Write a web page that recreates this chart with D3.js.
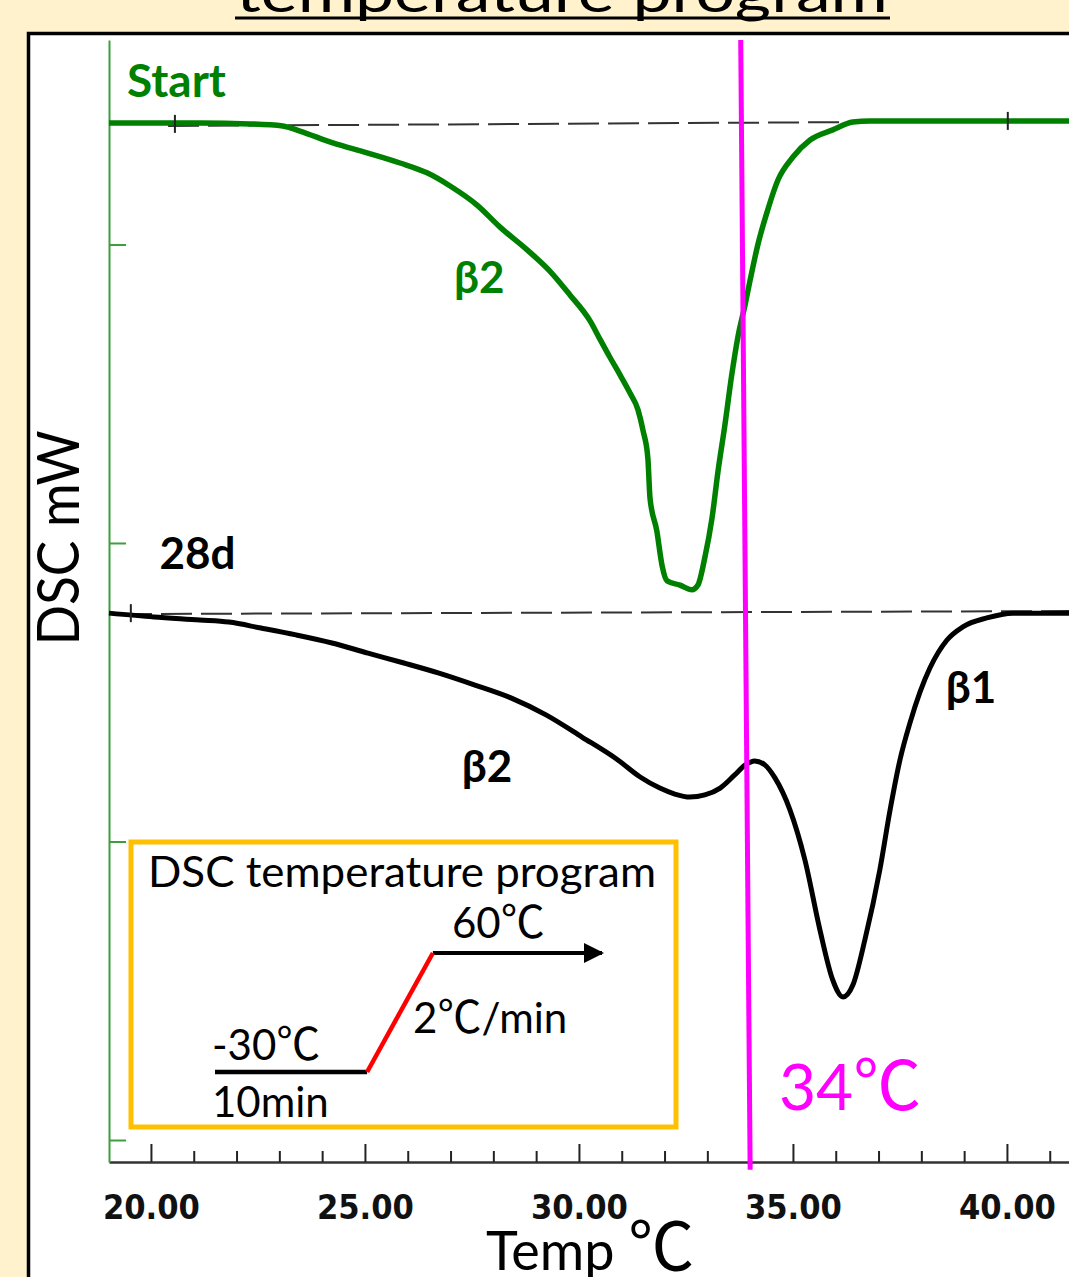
<!DOCTYPE html>
<html>
<head>
<meta charset="utf-8">
<script src="https://cdn.jsdelivr.net/npm/d3@7"></script>
<style>
  body { margin: 0; background: #FFF2CC; }
  svg { display: block; }
</style>
</head>
<body>
<div id="chart"></div>
<script>
// start sample (green), temperatures in ℃ and heat flow in arbitrary mW units
var startTemp = [19.02, 21.14, 22.31, 23.08, 23.48, 24.25, 25.05, 25.82, 26.45, 26.99, 27.62, 28.15,
  28.79, 29.32, 29.79, 30.26, 30.49, 30.72, 30.96, 31.19, 31.38, 31.50, 31.61, 31.66, 31.82, 31.94,
  32.06, 32.36, 32.64, 32.78, 32.94, 33.11, 33.25, 33.41, 33.57, 33.71, 33.88, 34.00, 34.19, 34.39,
  34.65, 35.00, 35.40, 35.93, 36.40, 36.80, 38.67, 41.45];
var startDSC = [3.407, 3.407, 3.404, 3.397, 3.380, 3.340, 3.307, 3.273, 3.240, 3.196, 3.132, 3.059,
  2.982, 2.911, 2.831, 2.744, 2.683, 2.623, 2.563, 2.503, 2.446, 2.375, 2.285, 2.151, 2.040, 1.926,
  1.873, 1.859, 1.843, 1.859, 1.950, 2.084, 2.241, 2.395, 2.563, 2.687, 2.797, 2.881, 3.005, 3.106,
  3.216, 3.293, 3.350, 3.384, 3.410, 3.414, 3.414, 3.414];

// 28 day sample (black)
var d28Temp = [19.02, 20.07, 21.14, 21.82, 22.57, 23.39, 24.23, 25.07, 25.91, 26.73, 27.57, 28.41,
  29.23, 30.07, 30.91, 31.43, 31.89, 32.24, 32.59, 32.94, 33.30, 33.64, 33.88, 34.11, 34.35, 34.58,
  34.93, 35.28, 35.63, 35.93, 36.17, 36.40, 36.68, 37.03, 37.27, 37.50, 37.74, 37.97, 38.20, 38.60,
  38.97, 39.53, 40.14, 41.45];
var d28DSC = [1.765, 1.752, 1.742, 1.735, 1.715, 1.692, 1.665, 1.631, 1.598, 1.564, 1.524, 1.481,
  1.424, 1.350, 1.273, 1.216, 1.179, 1.159, 1.149, 1.156, 1.179, 1.223, 1.256, 1.270, 1.256, 1.213,
  1.106, 0.938, 0.704, 0.536, 0.479, 0.519, 0.670, 0.905, 1.106, 1.273, 1.400, 1.501, 1.581, 1.675,
  1.719, 1.749, 1.765, 1.765];

// dashed baselines [temp, dsc]
var startBase = [[20.4, 3.397], [41.45, 3.414]];
var d28Base = [[19.3, 1.762], [41.45, 1.772]];

// small "+" markers on the baselines
var startMarks = [[20.56, 3.404], [40.02, 3.414]];
var d28Marks = [[19.53, 1.765]];

// 34 ℃ marker line
var markLine = [[33.78, 3.685], [34.0, -0.10]];

var tempTicks = d3.range(20, 42);
var majorTicks = [20, 25, 30, 35, 40];
var dscTicks = [0, 1, 2, 3];

// inset: schematic temperature program (position along step, temperature)
var progTemp = [-30, -30, 60, 60];
var progStep = [0, 0.393, 0.563, 1];

function init() {
  var w = 1069;
  var h = 1277;

  var svg = d3.select("#chart")
              .append("svg")
              .attr("width", w)
              .attr("height", h);

  var x = d3.scaleLinear().domain([19.02, 41.45]).range([109, 1069]);
  var y = d3.scaleLinear().domain([-0.0737, 3.685]).range([1162, 40]);

  var calibri = "Lato, 'Open Sans', sans-serif";

  // title (cut off at the top)
  svg.append("text")
     .attr("x", 236).attr("y", 12)
     .attr("textLength", 652).attr("lengthAdjust", "spacingAndGlyphs")
     .style("font-family", calibri).style("font-size", "54px")
     .text("temperature program");
  svg.append("line")
     .attr("x1", 235).attr("x2", 890).attr("y1", 18).attr("y2", 18)
     .attr("stroke", "#000").attr("stroke-width", 3);

  // white panel
  svg.append("rect")
     .attr("x", 28.5).attr("y", 33.5).attr("width", 1100).attr("height", 1300)
     .attr("fill", "#fff").attr("stroke", "#000").attr("stroke-width", 3.5);

  // x axis
  var xAxis = d3.axisBottom(x)
                .tickValues(tempTicks)
                .tickSizeInner(-11)
                .tickSizeOuter(0)
                .tickFormat(function(d) {
                  return majorTicks.indexOf(d) >= 0 ? d3.format(".2f")(d) : "";
                });
  var gx = svg.append("g")
              .attr("transform", "translate(0," + 1162 + ")")
              .call(xAxis);
  gx.select(".domain").attr("stroke", "#333").attr("stroke-width", 2.5);
  gx.selectAll(".tick line")
    .attr("stroke", "#222").attr("stroke-width", 2)
    .attr("y2", function(d) { return majorTicks.indexOf(d) >= 0 ? -18 : -11; });
  gx.selectAll(".tick text")
    .attr("y", 57).attr("dy", 0)
    .attr("fill", "#111")
    .attr("transform", "scale(0.92,1.12)")
    .style("font-family", "'DejaVu Sans'")
    .style("font-weight", "bold")
    .style("font-size", "31px");
  // keep the scaled labels centred on their ticks
  gx.selectAll(".tick text")
    .attr("transform", null)
    .attr("textLength", function(d) { return majorTicks.indexOf(d) >= 0 ? 97 : null; })
    .attr("lengthAdjust", "spacingAndGlyphs")
    .style("font-size", "34px");

  // y axis (no labels)
  var yAxis = d3.axisRight(y)
                .tickValues(dscTicks)
                .tickSize(17)
                .tickSizeOuter(0)
                .tickFormat("");
  var gy = svg.append("g")
              .attr("transform", "translate(" + 109 + ",0)")
              .call(yAxis);
  gy.select(".domain").attr("stroke", "#3d9e3d").attr("stroke-width", 2);
  gy.selectAll(".tick line").attr("stroke", "#3d9e3d").attr("stroke-width", 2);

  var line = d3.line()
               .x(function(d) { return x(d[0]); })
               .y(function(d) { return y(d[1]); });
  var curve = d3.line()
                .x(function(d) { return x(d[0]); })
                .y(function(d) { return y(d[1]); })
                .curve(d3.curveMonotoneX);

  // dashed baselines
  [startBase, d28Base].forEach(function(b) {
    svg.append("path")
       .attr("d", line(b))
       .attr("fill", "none")
       .attr("stroke", "#333")
       .attr("stroke-width", 2)
       .attr("stroke-dasharray", "31,9");
  });

  // curves
  svg.append("path")
     .attr("d", curve(d3.zip(startTemp, startDSC)))
     .attr("fill", "none").attr("stroke", "#008000").attr("stroke-width", 5.5)
     .attr("stroke-linejoin", "round");
  svg.append("path")
     .attr("d", curve(d3.zip(d28Temp, d28DSC)))
     .attr("fill", "none").attr("stroke", "#000").attr("stroke-width", 5)
     .attr("stroke-linejoin", "round");

  // "+" markers
  svg.selectAll(".mark")
     .data(startMarks.concat(d28Marks))
     .enter()
     .append("line")
     .attr("class", "mark")
     .attr("x1", function(d) { return x(d[0]); })
     .attr("x2", function(d) { return x(d[0]); })
     .attr("y1", function(d) { return y(d[1]) - 9; })
     .attr("y2", function(d) { return y(d[1]) + 9; })
     .attr("stroke", "#222").attr("stroke-width", 2);

  // 34 ℃ line
  svg.append("path")
     .attr("d", line(markLine))
     .attr("fill", "none").attr("stroke", "#FF00FF").attr("stroke-width", 5);

  // curve labels
  var labels = [
    {text: "Start", t: 19.44, v: 3.494, color: "#008000", size: 46},
    {text: "β2", t: 27.08, v: 2.837, color: "#008000", size: 44},
    {text: "28d", t: 20.2, v: 1.913, color: "#000", size: 44},
    {text: "β2", t: 27.26, v: 1.200, color: "#000", size: 44},
    {text: "β1", t: 38.57, v: 1.464, color: "#000", size: 44}
  ];
  svg.selectAll(".lbl")
     .data(labels)
     .enter()
     .append("text")
     .attr("class", "lbl")
     .attr("x", function(d) { return x(d.t); })
     .attr("y", function(d) { return y(d.v); })
     .attr("fill", function(d) { return d.color; })
     .style("font-family", calibri)
     .style("font-weight", "bold")
     .style("font-size", function(d) { return d.size + "px"; })
     .text(function(d) { return d.text; });

  // 34℃ label
  var t34 = svg.append("text")
               .attr("x", 779).attr("y", 1110)
               .attr("fill", "#FF00FF")
               .style("font-family", calibri)
               .style("font-size", "64px");
  t34.append("tspan").text("34");
  t34.append("tspan").style("font-family", "'Noto Sans CJK JP'").style("font-size", "68px").text("℃");

  // axis titles
  svg.append("text")
     .attr("transform", "translate(79,538) rotate(-90)")
     .attr("text-anchor", "middle")
     .attr("textLength", 215).attr("lengthAdjust", "spacingAndGlyphs")
     .style("font-family", calibri).style("font-size", "58px")
     .text("DSC mW");
  var tt = svg.append("text")
              .attr("x", 486).attr("y", 1270)
              .style("font-family", calibri).style("font-size", "54px");
  tt.append("tspan").text("Temp ");
  tt.append("tspan").style("font-family", "'Noto Sans CJK JP'").style("font-size", "66px").text("℃");

  // inset box
  svg.append("rect")
     .attr("x", 131).attr("y", 842).attr("width", 545).attr("height", 285)
     .attr("fill", "#fff").attr("stroke", "#FFC000").attr("stroke-width", 5);

  svg.append("text")
     .attr("x", 148).attr("y", 887)
     .attr("textLength", 508).attr("lengthAdjust", "spacingAndGlyphs")
     .style("font-family", calibri).style("font-size", "42px")
     .text("DSC temperature program");

  var ix = d3.scaleLinear().domain([0, 1]).range([215, 602]);
  var iy = d3.scaleLinear().domain([-30, 60]).range([1072, 953]);
  var prog = d3.zip(progStep, progTemp);

  svg.append("defs").append("marker")
     .attr("id", "arrow")
     .attr("viewBox", "0 0 10 10")
     .attr("refX", 9).attr("refY", 5)
     .attr("markerWidth", 5).attr("markerHeight", 5)
     .attr("markerUnits", "strokeWidth")
     .attr("orient", "auto")
     .append("path").attr("d", "M0,0L10,5L0,10Z").attr("fill", "#000");

  var pline = d3.line()
                .x(function(d) { return ix(d[0]); })
                .y(function(d) { return iy(d[1]); });
  svg.append("path").attr("d", pline(prog.slice(0, 2)))
     .attr("stroke", "#000").attr("stroke-width", 4.5).attr("fill", "none");
  svg.append("path").attr("d", pline(prog.slice(2, 4)))
     .attr("stroke", "#000").attr("stroke-width", 4).attr("fill", "none")
     .attr("marker-end", "url(#arrow)");
  svg.append("path").attr("d", pline(prog.slice(1, 3)))
     .attr("stroke", "#FF0000").attr("stroke-width", 4.5).attr("fill", "none");

  var insetText = [
    {a: "60", x: 452, y: 938},
    {a: "2", b: "/min", x: 413, y: 1033},
    {a: "-30", x: 212, y: 1060}
  ];
  insetText.forEach(function(d) {
    var t = svg.append("text").attr("x", d.x).attr("y", d.y)
               .style("font-family", calibri).style("font-size", "42px");
    t.append("tspan").text(d.a);
    t.append("tspan").style("font-family", "'Noto Sans CJK JP'").style("font-size", "44px").text("℃");
    if (d.b) t.append("tspan").text(d.b);
  });
  svg.append("text").attr("x", 212).attr("y", 1117)
     .style("font-family", calibri).style("font-size", "42px")
     .text("10min");
}

window.onload = init;
</script>
</body>
</html>
